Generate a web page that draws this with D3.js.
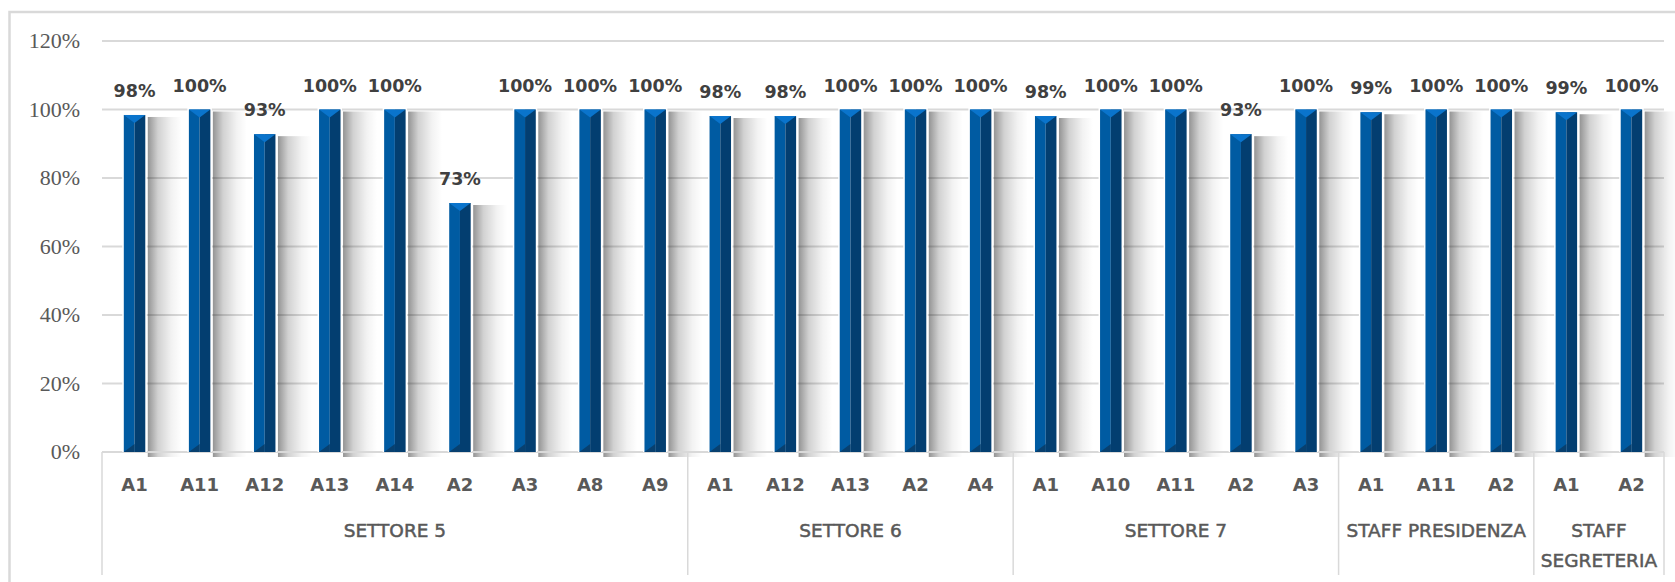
<!DOCTYPE html>
<html>
<head>
<meta charset="utf-8">
<script src="https://cdn.jsdelivr.net/npm/d3@7"></script>
<style>
  html, body { margin: 0; padding: 0; background: #fff; }
  svg { display: block; }
</style>
</head>
<body>
<svg id="chart" width="1675" height="582"></svg>
<script>
const categories = ["A1","A11","A12","A13","A14","A2","A3","A8","A9",
                    "A1","A12","A13","A2","A4",
                    "A1","A10","A11","A2","A3",
                    "A1","A11","A2",
                    "A1","A2"];
const groupNames = ["SETTORE 5","SETTORE 6","SETTORE 7","STAFF PRESIDENZA","STAFF\nSEGRETERIA"];
const groupSizes = [9,5,5,3,2];
const values = [0.984,1.0,0.928,1.0,1.0,0.727,1.0,1.0,1.0,
                0.981,0.981,1.0,1.0,1.0,
                0.981,1.0,1.0,0.928,1.0,
                0.992,1.0,1.0,
                0.992,1.0];
const yTicks = [0,0.2,0.4,0.6,0.8,1.0,1.2];

(function () {
const svg = d3.select("#chart");
const pLeft = 102, pRight = 1664, pTop = 41, pBottom = 452, axisBottom = 575;

const x = d3.scaleBand().domain(d3.range(categories.length)).range([pLeft, pRight]).padding(0);
const y = d3.scaleLinear().domain([0, 1.2]).range([pBottom, pTop]);
const bw = x.bandwidth() * 0.33;

// outer frame
svg.append("rect").attr("x", 9.5).attr("y", 12).attr("width", 1700).attr("height", 620)
  .attr("fill", "none").attr("stroke", "#d9d9d9").attr("stroke-width", 2.5);

const defs = svg.append("defs");
const sg = defs.append("linearGradient").attr("id", "shadow").attr("x1", "0").attr("x2", "1").attr("y1", "0").attr("y2", "0");
sg.append("stop").attr("offset", "0").attr("stop-color", "#000").attr("stop-opacity", 0.42);
sg.append("stop").attr("offset", "0.3").attr("stop-color", "#000").attr("stop-opacity", 0.18);
sg.append("stop").attr("offset", "0.7").attr("stop-color", "#000").attr("stop-opacity", 0.05);
sg.append("stop").attr("offset", "1").attr("stop-color", "#000").attr("stop-opacity", 0);

// gridlines
svg.append("g").selectAll("line").data(yTicks.filter(d => d > 0)).join("line")
  .attr("x1", pLeft).attr("x2", pRight)
  .attr("y1", d => y(d)).attr("y2", d => y(d))
  .attr("stroke", "#d9d9d9").attr("stroke-width", 2);

// y axis labels
svg.append("g").selectAll("text").data(yTicks).join("text")
  .attr("x", 80).attr("y", d => y(d)).attr("dy", "0.34em")
  .attr("text-anchor", "end")
  .attr("font-family", "'Liberation Serif', serif").attr("font-size", 22).attr("fill", "#595959")
  .text(d => Math.round(d * 100) + "%");

// shadows
svg.append("g").selectAll("rect").data(values).join("rect")
  .attr("x", (d, i) => x(i) + (x.bandwidth() - bw) / 2 + bw + 2.5)
  .attr("y", d => y(d) + 2)
  .attr("width", 34)
  .attr("height", d => pBottom - y(d) + 3)
  .attr("fill", "url(#shadow)");

// x baseline
svg.append("line").attr("x1", pLeft).attr("x2", pRight).attr("y1", pBottom).attr("y2", pBottom)
  .attr("stroke", "#d9d9d9").attr("stroke-width", 2);

// bars
const bars = svg.append("g").selectAll("g").data(values).join("g")
  .attr("transform", (d, i) => `translate(${x(i) + (x.bandwidth() - bw) / 2},0)`);
bars.append("rect").attr("x", -1.5).attr("y", d => y(d) - 1.5).attr("width", bw + 3)
  .attr("height", d => pBottom - y(d) + 1.5).attr("fill", "#fff");
bars.append("rect").attr("x", 0).attr("y", d => y(d)).attr("width", bw / 2)
  .attr("height", d => pBottom - y(d)).attr("fill", "#005ba2");
bars.append("rect").attr("x", bw / 2).attr("y", d => y(d)).attr("width", bw / 2)
  .attr("height", d => pBottom - y(d)).attr("fill", "#033e70");
bars.append("polygon")
  .attr("points", d => `0,${y(d)} ${bw},${y(d)} ${bw / 2},${y(d) + 8}`)
  .attr("fill", "#0a74cc");
bars.append("polygon")
  .attr("points", d => `0,${pBottom} ${bw / 2},${pBottom - 8} ${bw / 2},${pBottom}`)
  .attr("fill", "#08406f");

// value labels
svg.append("g").selectAll("text").data(values).join("text")
  .attr("x", (d, i) => x(i) + x.bandwidth() / 2)
  .attr("y", d => y(d) - 18)
  .attr("text-anchor", "middle")
  .attr("font-family", "DejaVu Sans").attr("font-weight", "bold").attr("font-size", 17.5)
  .attr("fill", "#404040")
  .text(d => Math.round(d * 100) + "%");

// category tick labels
svg.append("g").selectAll("text").data(categories).join("text")
  .attr("x", (d, i) => x(i) + x.bandwidth() / 2)
  .attr("y", 491)
  .attr("text-anchor", "middle")
  .attr("font-family", "DejaVu Sans").attr("font-weight", "bold").attr("font-size", 18)
  .attr("fill", "#595959")
  .text(d => d);

// group separators and labels
const bounds = [0];
groupSizes.forEach(s => bounds.push(bounds[bounds.length - 1] + s));
const xEdge = i => i < categories.length ? x(i) : pRight;

svg.append("g").selectAll("line").data(bounds).join("line")
  .attr("x1", d => xEdge(d)).attr("x2", d => xEdge(d))
  .attr("y1", pBottom).attr("y2", axisBottom)
  .attr("stroke", "#d9d9d9").attr("stroke-width", 1.5);

const gl = svg.append("g").selectAll("text").data(groupNames).join("text")
  .attr("x", (d, i) => (xEdge(bounds[i]) + xEdge(bounds[i + 1])) / 2)
  .attr("y", 537)
  .attr("text-anchor", "middle")
  .attr("font-family", "DejaVu Sans").attr("font-size", 18.5)
  .attr("fill", "#595959").attr("stroke", "#595959").attr("stroke-width", 0.5);
gl.each(function(d) {
  const t = d3.select(this);
  const cx = t.attr("x");
  d.split("\n").forEach((line, k) => {
    t.append("tspan").attr("x", cx).attr("dy", k === 0 ? 0 : 30).text(line);
  });
});
})();
</script>
</body>
</html>
